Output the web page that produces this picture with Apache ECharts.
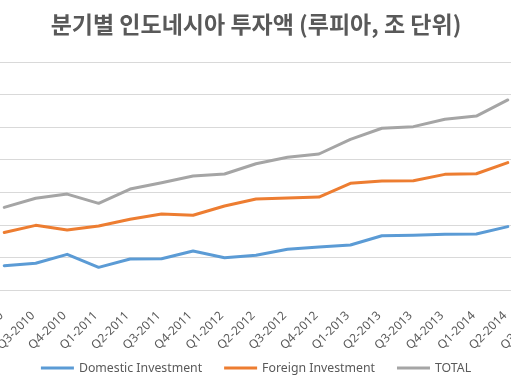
<!DOCTYPE html>
<html>
<head>
<meta charset="utf-8">
<script src="https://cdn.jsdelivr.net/npm/echarts@6/dist/echarts.min.js"></script>
<style>
html,body{margin:0;padding:0;background:#fff;overflow:hidden;width:511px;height:390px;}
#chart{width:598px;height:390px;margin-left:-43px;}
</style>
</head>
<body>
<div id="chart"></div>
<script>
const categories = ["Q1-2010","Q2-2010","Q3-2010","Q4-2010","Q1-2011","Q2-2011","Q3-2011","Q4-2011","Q1-2012","Q2-2012","Q3-2012","Q4-2012","Q1-2013","Q2-2013","Q3-2013","Q4-2013","Q1-2014","Q2-2014","Q3-2014"];
const domestic = [null,14.9,16.4,21.9,13.9,19.0,19.2,23.9,19.8,21.3,25.0,26.4,27.6,33.3,33.6,34.2,34.4,38.9,null];
const foreign  = [null,35.3,39.7,36.8,39.3,43.4,46.7,45.9,51.6,55.9,56.5,57.1,65.5,66.9,67.1,71.0,71.4,78.2,null];
const total    = [null,50.7,56.3,58.9,53.2,62.0,65.9,70.0,71.2,77.5,81.5,83.5,92.5,99.3,100.3,104.8,106.8,116.7,null];
const seriesNames = ["Domestic Investment","Foreign Investment","TOTAL"];
const colors = ["#5B9BD5","#ED7D31","#A5A5A5"];
const yMin = 0, yMax = 140, yStep = 20;

const chart = echarts.init(document.getElementById('chart'));
const mk = (name, data, color) => ({
  name, type:'line', data, showSymbol:false, symbol:'none',
  lineStyle:{width:3, color, cap:'round', join:'round'},
  itemStyle:{color}, connectNulls:false
});
chart.setOption({
  animation:false,
  backgroundColor:'#ffffff',
  title:{
    text:'분기별 인도네시아 투자액 (루피아, 조 단위)',
    left:'center', top:13, padding:0,
    textStyle:{fontFamily:'"Noto Sans CJK KR"', fontSize:23, fontWeight:'bold', color:'#595959'}
  },
  legend:{
    bottom:11, left:'center',
    icon:'rect', itemWidth:33, itemHeight:3, itemGap:22,
    textStyle:{fontFamily:'"Noto Sans"', fontSize:12.3, color:'#595959'},
    data:seriesNames
  },
  grid:{left:0, right:0, top:62, bottom:100, containLabel:false, outerBoundsMode:'none'},
  xAxis:{
    type:'category', data:categories, boundaryGap:true,
    axisLine:{lineStyle:{color:'#D9D9D9', width:1}},
    axisTick:{show:false},
    axisLabel:{interval:0, rotate:45, margin:21, padding:[0,4,0,0], fontFamily:'"Noto Sans"', fontSize:12, color:'#595959'}
  },
  yAxis:{
    type:'value', min:yMin, max:yMax, interval:yStep,
    axisLine:{show:false}, axisTick:{show:false},
    axisLabel:{show:false},
    splitLine:{lineStyle:{color:'#D9D9D9', width:1}}
  },
  series:[
    mk(seriesNames[0], domestic, colors[0]),
    mk(seriesNames[1], foreign, colors[1]),
    mk(seriesNames[2], total, colors[2])
  ]
});
</script>
</body>
</html>
